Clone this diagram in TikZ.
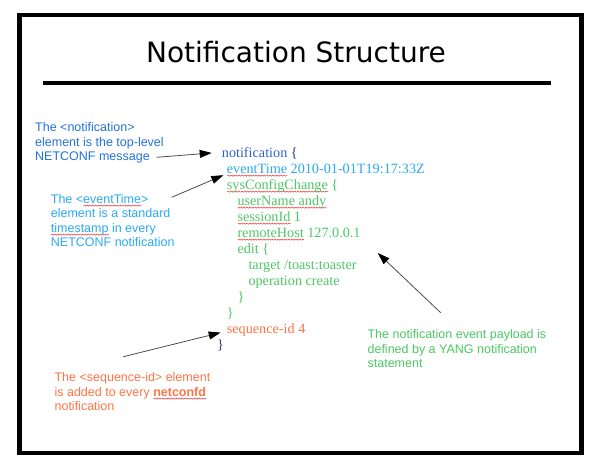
\documentclass[tikz,border=0pt]{standalone}
\usepackage{fontspec}
\setmainfont{Liberation Serif}
\newfontfamily\annfont{Liberation Sans}
\newfontfamily\titlefont{DejaVu Sans}
\usetikzlibrary{arrows.meta,decorations.pathmorphing}
\definecolor{notifblue}{HTML}{2E62C9}
\definecolor{bracenavy}{HTML}{2B3F7A}
\definecolor{evblue}{HTML}{2AAAF0}
\definecolor{paygreen}{HTML}{4CC764}
\definecolor{seqorange}{HTML}{FF7447}
\definecolor{annblue}{HTML}{2372D9}
\definecolor{spellred}{HTML}{E8383B}
\newlength\spellwd
\newcommand\spell[1]{\settowidth\spellwd{#1}\rlap{\smash{\tikz[baseline=0pt]\draw[spellred,line width=.5pt,decorate,decoration={snake,amplitude=.6pt,segment length=2.8pt}](0pt,-2.6pt)--(\spellwd,-2.6pt);}}#1}
\begin{document}
\begin{tikzpicture}[x=1pt,y=-1pt,
    code/.style={anchor=base west,inner sep=0pt,font=\fontsize{14.2}{16}\selectfont},
    ann/.style={anchor=base west,inner sep=0pt,align=left,font=\annfont\fontsize{12.5}{14.5}\selectfont},
    arr/.style={draw=black!70,line width=.8pt,-{Triangle[length=12pt,width=8pt,color=black]}}]
\useasboundingbox(0,0)rectangle(599,469);
\draw[line width=4.5pt](19.5,15)rectangle(581.5,453);
\node[anchor=base,inner sep=0pt,font=\titlefont\fontsize{28}{34}\selectfont](title)at(296,62.5){Notification Structure};
\draw[line width=4.5pt](43,83)--(551,83);
% the notification itself, one node per line
\foreach \n/\x/\y/\c/\t in {notif/221.7/157/notifblue/{notification {\color{bracenavy}\{}},
    evtime/226.7/173/evblue/{\spell{eventTime} 2010-01-01T19:17:33Z},
    sysconf/226.7/189/paygreen/{\spell{sysConfigChange} \{},
    user/237.3/205/paygreen/{\spell{userName andy}},
    sess/237.3/221/paygreen/{\spell{sessionId} 1},
    rhost/237.3/237/paygreen/{\spell{remoteHost} 127.0.0.1},
    edit/237.3/253/paygreen/{edit \{},
    target/248.3/269/paygreen/{target /toast:toaster},
    oper/248.3/285/paygreen/{operation create},
    editend/237.3/301/paygreen/\},
    sysend/226.7/317/paygreen/\},
    seqid/226.7/333/seqorange/{sequence-id 4},
    notifend/217/349/bracenavy/\}}
    \node[code,text=\c](\n)at(\x,\y){\t};
% notes (base = last line)
\node[ann,text=annblue](annnotif)at(35,160.5){The <notification>\\element is the top-level\\NETCONF message};
\node[ann,text=evblue](annevtime)at(50.7,246.5){The <\spell{eventTime}>\\element is a standard\\\spell{timestamp} in every\\NETCONF notification};
\node[ann,text=seqorange](annseq)at(54.4,410.5){The <sequence-id> element\\is added to every \textbf{\spell{netconfd}}\\notification};
\node[ann,text=paygreen](annpay)at(367.4,367.5){The notification event payload is\\defined by a YANG notification\\statement};
\coordinate(tnotif)at(156.7,157.3);
\coordinate(tevtime)at(171.7,197.3);
\coordinate(tseq)at(123.3,356.7);
\coordinate(tpay)at(440.7,312.7);
\draw[arr](tnotif)--([xshift=-10pt]notif.west);
\draw[arr](tevtime)--([xshift=-3.4pt,yshift=-6.8pt]evtime.west);
\draw[arr](tseq)--([xshift=-6pt,yshift=-3pt]seqid.west);
\draw[arr](tpay)--([xshift=17pt,yshift=-16pt]rhost.base east);
\end{tikzpicture}
\end{document}
